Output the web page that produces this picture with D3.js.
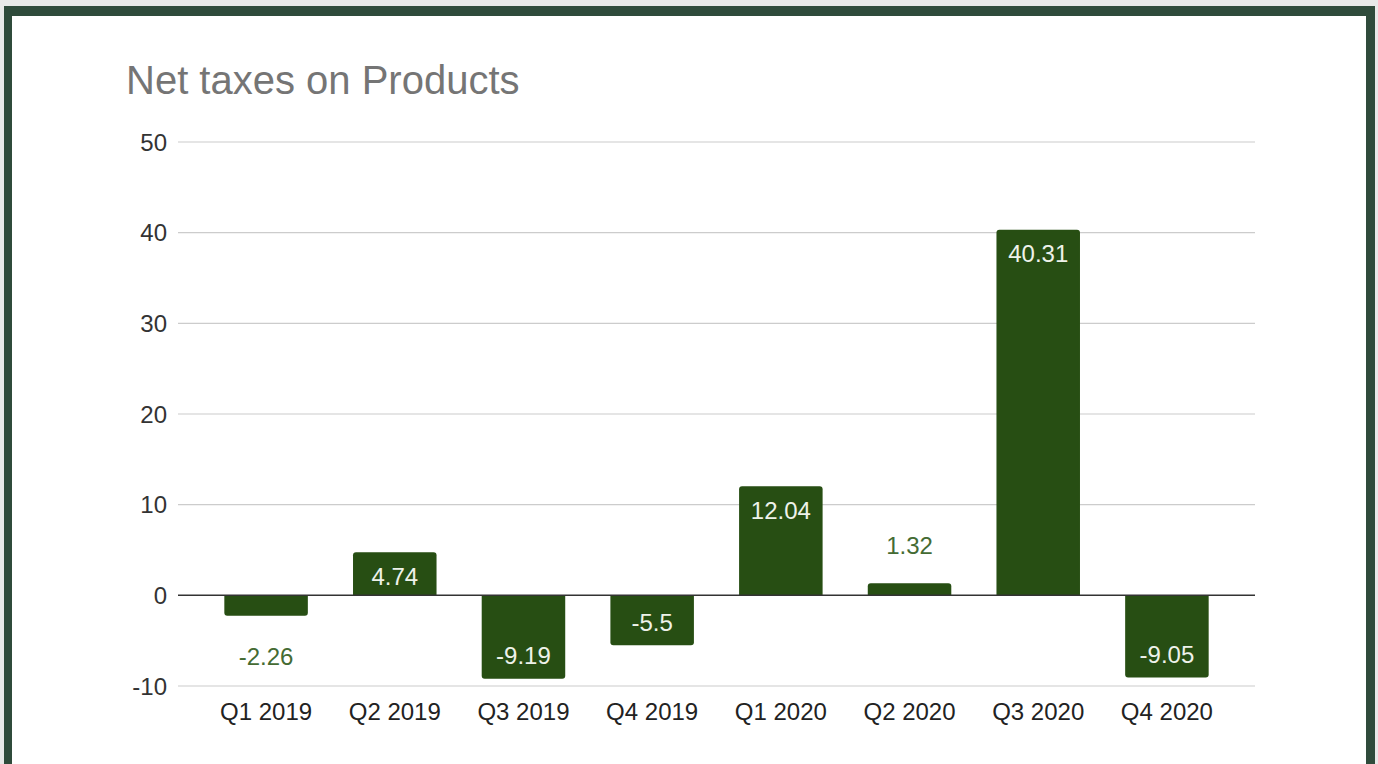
<!DOCTYPE html>
<html>
<head>
<meta charset="utf-8">
<script src="https://cdn.jsdelivr.net/npm/d3@7"></script>
<style>
  html, body { margin: 0; padding: 0; background: #e8e9e8; }
  svg { display: block; font-family: "Liberation Sans", Arial, sans-serif; }
</style>
</head>
<body>
<svg id="chart" width="1378" height="764"></svg>
<script>
const categories = ["Q1 2019", "Q2 2019", "Q3 2019", "Q4 2019", "Q1 2020", "Q2 2020", "Q3 2020", "Q4 2020"];
const values = [-2.26, 4.74, -9.19, -5.5, 12.04, 1.32, 40.31, -9.05];
const yTicks = [-10, 0, 10, 20, 30, 40, 50];
const titleText = "Net taxes on Products";

const svg = d3.select("#chart");
const W = 1378, H = 764;

// background + frame
svg.append("rect").attr("x", 0).attr("y", 0).attr("width", W).attr("height", H).attr("fill", "#e8e9e8");
svg.append("rect").attr("x", 4).attr("y", 6).attr("width", 1371).attr("height", H + 20).attr("fill", "#2f4b3b");
svg.append("rect").attr("x", 12).attr("y", 16).attr("width", 1354).attr("height", H + 20).attr("fill", "#ffffff");

// title
svg.append("text").attr("x", 126).attr("y", 94)
  .attr("font-size", 40).attr("fill", "#757575").text(titleText);

const x = d3.scaleBand().domain(categories).range([178, 1255])
  .paddingInner(0.351).paddingOuter(0.36);
const y = d3.scaleLinear().domain([-10, 50]).range([686, 142]);

// gridlines
svg.append("g").selectAll("line").data(yTicks.filter(d => d !== 0)).join("line")
  .attr("x1", 178).attr("x2", 1255)
  .attr("y1", d => y(d)).attr("y2", d => y(d))
  .attr("stroke", "#cccccc").attr("stroke-width", 1.2);

// y tick labels
svg.append("g").selectAll("text").data(yTicks).join("text")
  .attr("x", 167).attr("y", d => y(d))
  .attr("text-anchor", "end").attr("dominant-baseline", "central")
  .attr("font-size", 24).attr("fill", "#333333").text(d => d);

// bars
const r = 3;
function barPath(d, i) {
  const x0 = x(categories[i]), x1 = x0 + x.bandwidth();
  const y0 = y(0), y1 = y(d);
  const h = Math.abs(y1 - y0);
  const rr = Math.min(r, h);
  if (d >= 0) {
    return `M${x0},${y0} L${x0},${y1 + rr} Q${x0},${y1} ${x0 + rr},${y1} L${x1 - rr},${y1} Q${x1},${y1} ${x1},${y1 + rr} L${x1},${y0} Z`;
  } else {
    return `M${x0},${y0} L${x0},${y1 - rr} Q${x0},${y1} ${x0 + rr},${y1} L${x1 - rr},${y1} Q${x1},${y1} ${x1},${y1 - rr} L${x1},${y0} Z`;
  }
}
svg.append("g").selectAll("path").data(values).join("path")
  .attr("d", (d, i) => barPath(d, i))
  .attr("fill", "#274e13");

// zero line
svg.append("line").attr("x1", 178).attr("x2", 1255)
  .attr("y1", y(0)).attr("y2", y(0))
  .attr("stroke", "#333333").attr("stroke-width", 1.5);

// data labels
svg.append("g").selectAll("text").data(values).join("text")
  .attr("x", (d, i) => x(categories[i]) + x.bandwidth() / 2)
  .attr("y", d => {
    const h = Math.abs(y(d) - y(0));
    const inside = h > 35;
    if (d >= 0) return inside ? y(d) + 24 : y(d) - 38;
    return inside ? y(d) - 23 : y(d) + 41;
  })
  .attr("text-anchor", "middle").attr("dominant-baseline", "central")
  .attr("font-size", 24)
  .attr("fill", d => Math.abs(y(d) - y(0)) > 35 ? "#eef2ea" : "#446b33")
  .text(d => d);

// x axis labels
svg.append("g").selectAll("text").data(categories).join("text")
  .attr("x", d => x(d) + x.bandwidth() / 2).attr("y", 711)
  .attr("text-anchor", "middle").attr("dominant-baseline", "central")
  .attr("font-size", 24).attr("fill", "#222222").text(d => d);
</script>
</body>
</html>
